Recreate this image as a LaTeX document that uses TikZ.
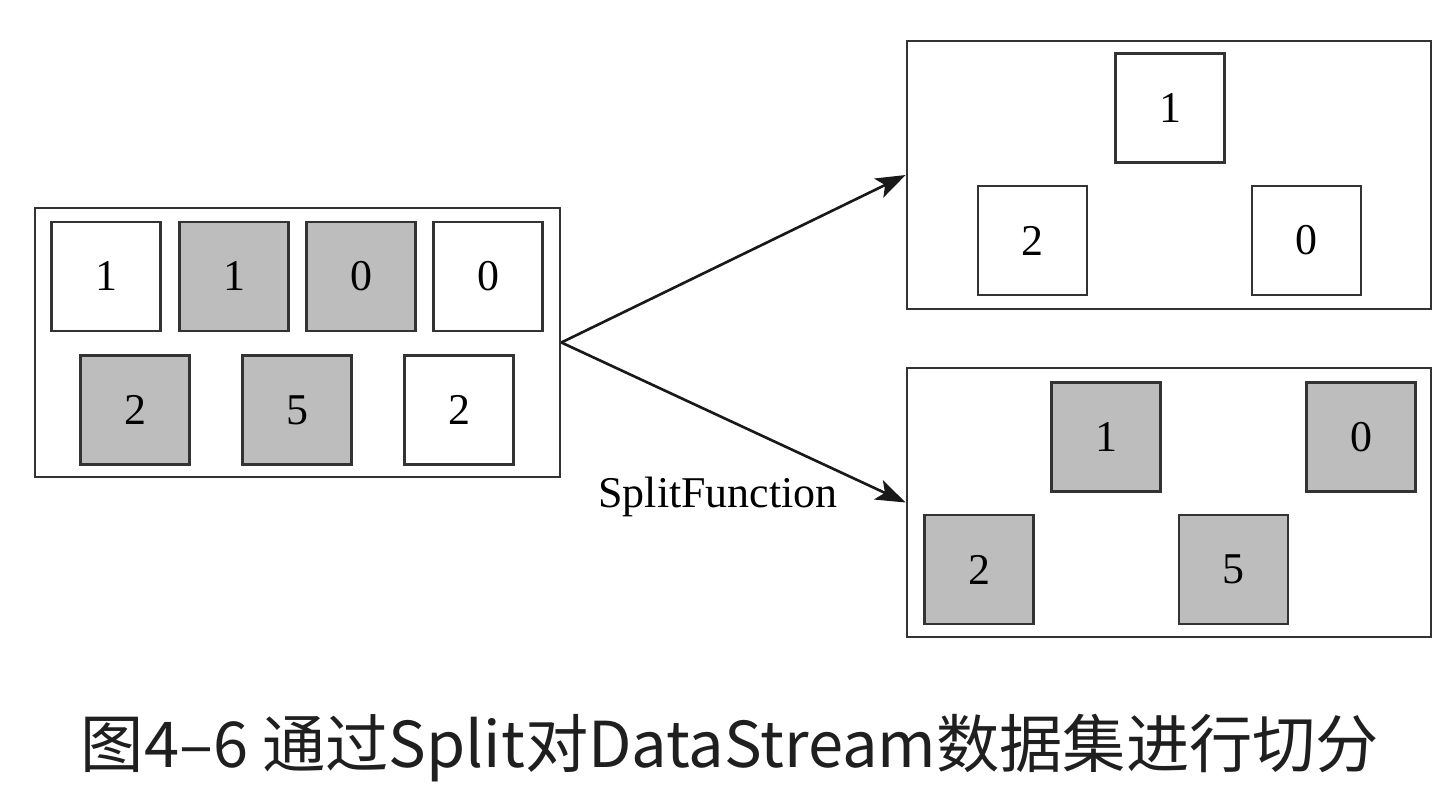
\documentclass[tikz,border=0pt]{standalone}
\usepackage{fontspec}
\setmainfont{Liberation Serif}
\newfontfamily\cjk{Noto Sans CJK SC}
\usetikzlibrary{arrows.meta}
\begin{document}
\begin{tikzpicture}[x=0.02cm,y=-0.02cm,
        grp/.style={draw=black!80,line width=1.6pt,inner sep=0pt},
        cell/.style={draw=black!80,line width=1.6pt,minimum size=2.18cm,inner sep=0pt,
                font=\fontsize{25}{25}\selectfont},
        hit/.style={cell,fill=black!26},
        flow/.style={-{Stealth[length=17pt,width=12pt,inset=4pt]},line width=1.5pt,draw=black!90}]
        \useasboundingbox (0,0) rectangle (1450,794);
        % input stream
        \node[grp,minimum width=10.5cm,minimum height=5.38cm] (src) at (297.5,342.5) {};
        \node[cell] (s1) at (106,276.5) {1};
        \node[hit] (s2) at (234,276.5) {1};
        \node[hit] (s3) at (361,276.5) {0};
        \node[cell] (s4) at (488,276.5) {0};
        \node[hit] (s5) at (135,410) {2};
        \node[hit] (s6) at (297,410) {5};
        \node[cell] (s7) at (459,410) {2};
        % first split
        \node[grp,minimum width=10.48cm,minimum height=5.36cm] (top) at (1169,175) {};
        \node[cell] (t1) at (1170,108) {1};
        \node[cell] (t2) at (1032.5,240.5) {2};
        \node[cell] (t3) at (1306.5,240.5) {0};
        % second split
        \node[grp,minimum width=10.48cm,minimum height=5.38cm] (bot) at (1169,502.5) {};
        \node[hit] (b1) at (1106,437) {1};
        \node[hit] (b2) at (1361,437) {0};
        \node[hit] (b3) at (979,569.5) {2};
        \node[hit] (b4) at (1233.5,569.5) {5};
        \draw[flow] (src.east) -- (top.west);
        \draw[flow] (src.east) -- (bot.west);
        \node[font=\fontsize{25}{25}\selectfont] (lbl) at (718,497) {SplitFunction};
        \node[font=\cjk\fontsize{36}{36}\selectfont,text=black!88] (cap) at (730,748)
                {图4–6 通过Split对DataStream数据集进行切分};
\end{tikzpicture}
\end{document}
